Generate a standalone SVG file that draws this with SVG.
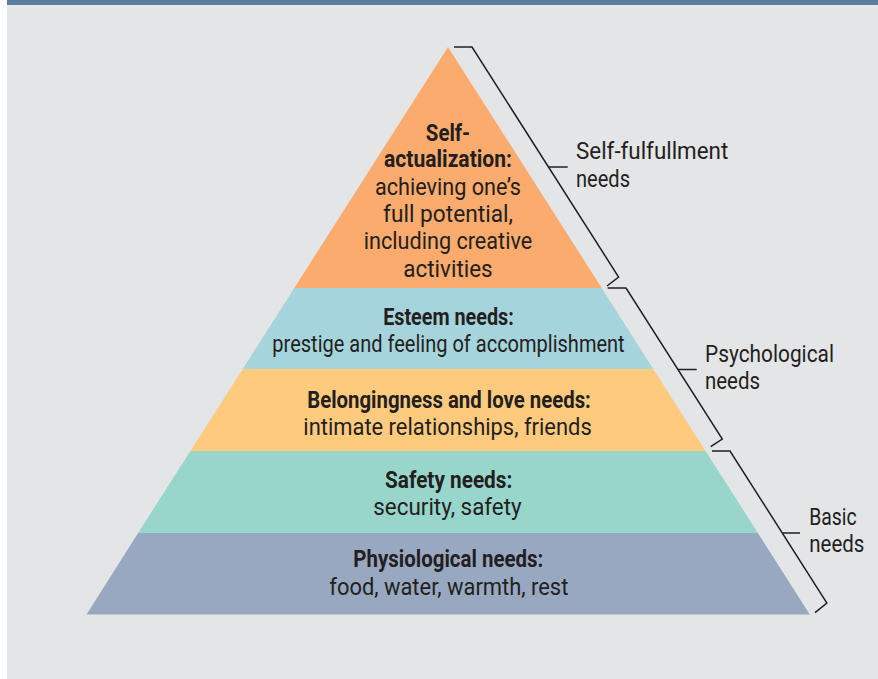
<svg xmlns="http://www.w3.org/2000/svg" width="878" height="679" viewBox="0 0 878 679">
<style>
.t{font-family:Roboto,"Liberation Sans","DejaVu Sans",sans-serif;font-size:24.5px;fill:#231f20;text-anchor:middle}
.b{font-weight:bold}
.l{font-family:Roboto,"Liberation Sans","DejaVu Sans",sans-serif;font-size:24.5px;fill:#231f20}
.br{fill:none;stroke:#231f20;stroke-width:1.5;stroke-linejoin:miter}
</style>
<rect x="0" y="0" width="878" height="679" fill="#ffffff"/>
<rect x="7" y="0" width="871" height="679" fill="#e4e5e7"/>
<rect x="7" y="0" width="871" height="5" fill="#5b7ba0"/>

<g id="self-actualization">
<polygon points="448,47 601.7,288 294.3,288" fill="#fbab6d"/>
<text class="t b" x="448" y="140.7" textLength="44.3" lengthAdjust="spacingAndGlyphs">Self-</text>
<text class="t b" x="448" y="167.3" textLength="128" lengthAdjust="spacingAndGlyphs">actualization:</text>
<text class="t" x="448" y="195" textLength="146" lengthAdjust="spacingAndGlyphs">achieving one’s</text>
<text class="t" x="448" y="221.7" textLength="130" lengthAdjust="spacingAndGlyphs">full potential,</text>
<text class="t" x="448" y="249.3" textLength="168.4" lengthAdjust="spacingAndGlyphs">including creative</text>
<text class="t" x="448" y="276.7" textLength="89.4" lengthAdjust="spacingAndGlyphs">activities</text>
</g>

<g id="esteem">
<polygon points="294.3,288 601.7,288 653.3,369 242.7,369" fill="#a6d4dd"/>
<text class="t b" x="448.5" y="325" textLength="130.7" lengthAdjust="spacingAndGlyphs">Esteem needs:</text>
<text class="t" x="448.5" y="351.7" textLength="352.3" lengthAdjust="spacingAndGlyphs">prestige and feeling of accomplishment</text>
</g>

<g id="belongingness">
<polygon points="242.7,369 653.3,369 705.6,451 190.4,451" fill="#fecb7e"/>
<text class="t b" x="449" y="408.3" textLength="283.7" lengthAdjust="spacingAndGlyphs">Belongingness and love needs:</text>
<text class="t" x="447.5" y="435" textLength="288.4" lengthAdjust="spacingAndGlyphs">intimate relationships, friends</text>
</g>

<g id="safety">
<polygon points="190.4,451 705.6,451 757.9,533 138.1,533" fill="#98d6cc"/>
<text class="t b" x="448.7" y="488.3" textLength="127.3" lengthAdjust="spacingAndGlyphs">Safety needs:</text>
<text class="t" x="447.5" y="515" textLength="148.4" lengthAdjust="spacingAndGlyphs">security, safety</text>
</g>

<g id="physiological">
<polygon points="138.1,533 757.9,533 809.8,614.5 86.5,614.5" fill="#99a8c1"/>
<text class="t b" x="448.3" y="567.3" textLength="190" lengthAdjust="spacingAndGlyphs">Physiological needs:</text>
<text class="t" x="448.8" y="595" textLength="239" lengthAdjust="spacingAndGlyphs">food, water, warmth, rest</text>
</g>

<g id="connectors">
<path class="br" d="M454,47 H472 L618.6,277 L607,286"/>
<path class="br" d="M548.5,167 H567.7"/>
<path class="br" d="M607.7,288 H626 L722.3,439 L710.7,446.7"/>
<path class="br" d="M678,369.5 H696.7"/>
<path class="br" d="M712,451 H730 L826.9,603 L815,612.7"/>
<path class="br" d="M782.3,533 H800"/>
</g>

<g id="label-self-fulfillment">
<text class="l" x="576" y="159.3" textLength="152.3" lengthAdjust="spacingAndGlyphs">Self-fulfullment</text>
<text class="l" x="576" y="186.7" textLength="54" lengthAdjust="spacingAndGlyphs">needs</text>
</g>
<g id="label-psychological">
<text class="l" x="705" y="361.7" textLength="129" lengthAdjust="spacingAndGlyphs">Psychological</text>
<text class="l" x="705" y="389.3" textLength="55" lengthAdjust="spacingAndGlyphs">needs</text>
</g>
<g id="label-basic">
<text class="l" x="809.3" y="525" textLength="47.4" lengthAdjust="spacingAndGlyphs">Basic</text>
<text class="l" x="809.3" y="551.7" textLength="55" lengthAdjust="spacingAndGlyphs">needs</text>
</g>
</svg>
